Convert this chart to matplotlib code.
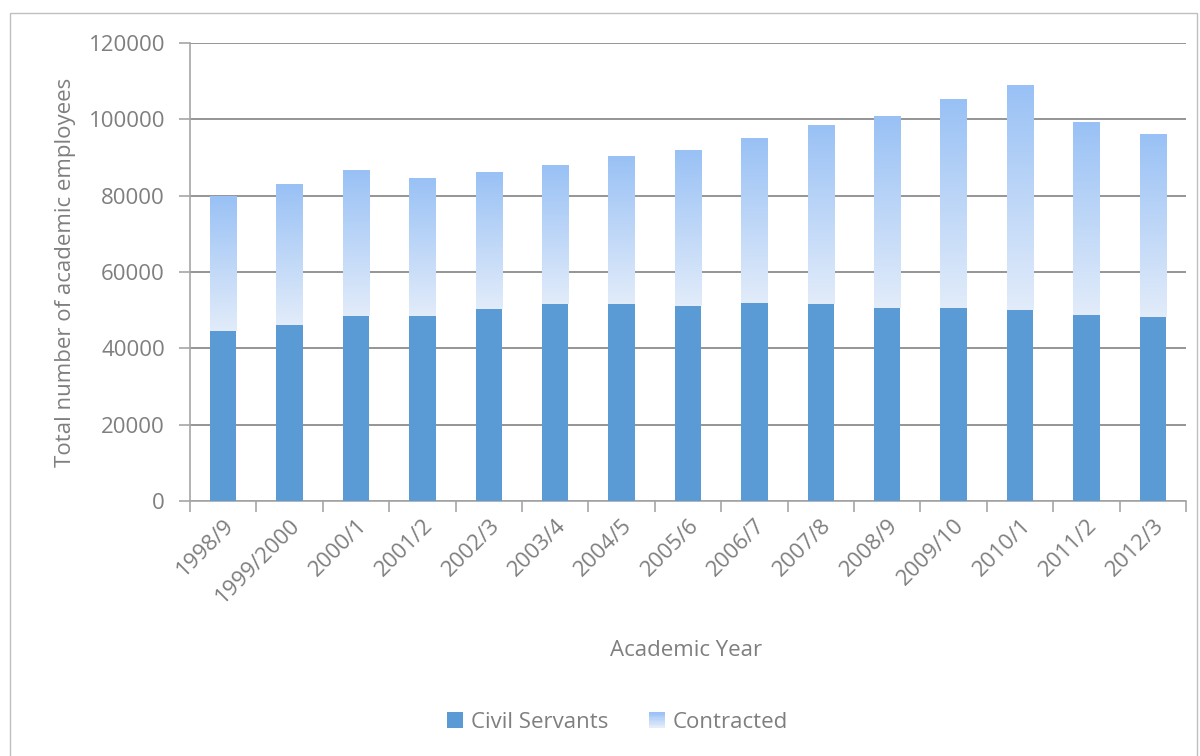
import numpy as np
import matplotlib.pyplot as plt
from matplotlib.patches import Rectangle
from matplotlib.legend_handler import HandlerBase
from matplotlib.colors import LinearSegmentedColormap


# values
years = ["1998/9", "1999/2000", "2000/1", "2001/2", "2002/3", "2003/4", "2004/5",
         "2005/6", "2006/7", "2007/8", "2008/9", "2009/10", "2010/1", "2011/2", "2012/3"]
civil = [44500, 46100, 48500, 48400, 50300, 51600, 51600,
         51100, 51900, 51600, 50600, 50600, 50000, 48700, 48200]
total = [80000, 83000, 86600, 84600, 86200, 88000, 90400,
         92000, 95100, 98500, 100900, 105300, 109000, 99300, 96200]
contracted = [t - c for t, c in zip(total, civil)]

civil_color = "#5B9BD5"
grad_top = "#99C1F5"
grad_bottom = "#E2ECFA"
text_color = "#7F7F7F"
grad_cmap = LinearSegmentedColormap.from_list("contr", [grad_bottom, grad_top])

plt.rcParams["font.family"] = ["Open Sans", "DejaVu Sans"]
fs = 16

fig = plt.figure(figsize=(12, 7.56), dpi=100)
ax = fig.add_axes([190 / 1200, 1 - 501 / 756, 996 / 1200, 458 / 756])

# outer chart border
fig.patches.append(Rectangle((10 / 1200, -0.01), 1187 / 1200, 1 - 13 / 756 + 0.01,
                             transform=fig.transFigure, fill=False,
                             edgecolor="#BFBFBF", lw=1.0))

x = np.arange(len(years))
w = 0.4
ax.bar(x, civil, width=w, color=civil_color, zorder=3, label="Civil Servants")
top_bars = ax.bar(x, contracted, width=w, bottom=civil, color="none",
                  zorder=3, label="Contracted")

# vertical gradient inside each contracted bar
grad = np.linspace(0, 1, 256).reshape(-1, 1)
for b in top_bars:
    x0, y0 = b.get_x(), b.get_y()
    im = ax.imshow(grad, cmap=grad_cmap, origin="lower", aspect="auto",
                   extent=(x0, x0 + b.get_width(), y0, y0 + b.get_height()),
                   zorder=3)
    im.set_clip_path(b)

ax.set_xlim(-0.5, len(years) - 0.5)
ax.set_ylim(0, 120000)
ax.set_yticks(np.arange(0, 120001, 20000))
ax.yaxis.grid(True, color="#8C8C8C", lw=1.3, zorder=0)
ax.set_axisbelow(True)

ax.set_xticks(x)
ax.set_xticklabels(years, rotation=45, ha="right", va="top",
                   rotation_mode="anchor", fontsize=fs, color=text_color)
ax.tick_params(axis="x", which="major", length=0, pad=10)
ax.set_xticks(np.arange(-0.5, len(years), 1), minor=True)
ax.tick_params(axis="x", which="minor", length=8, color="#A6A6A6", width=1.2)
ax.tick_params(axis="y", length=8, color="#A6A6A6", width=1.2,
               labelsize=fs, labelcolor=text_color, pad=10)

for s in ["top", "right"]:
    ax.spines[s].set_visible(False)
for s in ["left", "bottom"]:
    ax.spines[s].set_color("#A6A6A6")
    ax.spines[s].set_linewidth(1.2)

ax.set_ylabel("Total number of academic employees", fontsize=fs,
              color=text_color, labelpad=9)
fig.text(686 / 1200, 1 - 651 / 756, "Academic Year", ha="center", va="center",
         fontsize=fs, color=text_color)


class GradientHandler(HandlerBase):
    def create_artists(self, legend, orig_handle, xdescent, ydescent,
                       width, height, fontsize, trans):
        n = 12
        arts = []
        size = height
        for i in range(n):
            r = Rectangle((-xdescent + (width - size) / 2, -ydescent + i * size / n),
                          size, size / n + 0.2,
                          color=grad_cmap(i / (n - 1)), lw=0, transform=trans)
            arts.append(r)
        return arts


class SquareHandler(HandlerBase):
    def create_artists(self, legend, orig_handle, xdescent, ydescent,
                       width, height, fontsize, trans):
        size = height
        return [Rectangle((-xdescent + (width - size) / 2, -ydescent), size, size,
                          color=civil_color, lw=0, transform=trans)]


h1 = Rectangle((0, 0), 1, 1)
h2 = Rectangle((0, 0), 1, 1)
fig.legend([h1, h2], ["Civil Servants", "Contracted"],
           handler_map={h1: SquareHandler(), h2: GradientHandler()},
           loc="center", bbox_to_anchor=(617 / 1200, 1 - 722 / 756), ncol=2,
           frameon=False, fontsize=fs, labelcolor=text_color,
           handlelength=0.8, handletextpad=0.3, columnspacing=1.8)

fig.savefig("out.png", dpi=100)
